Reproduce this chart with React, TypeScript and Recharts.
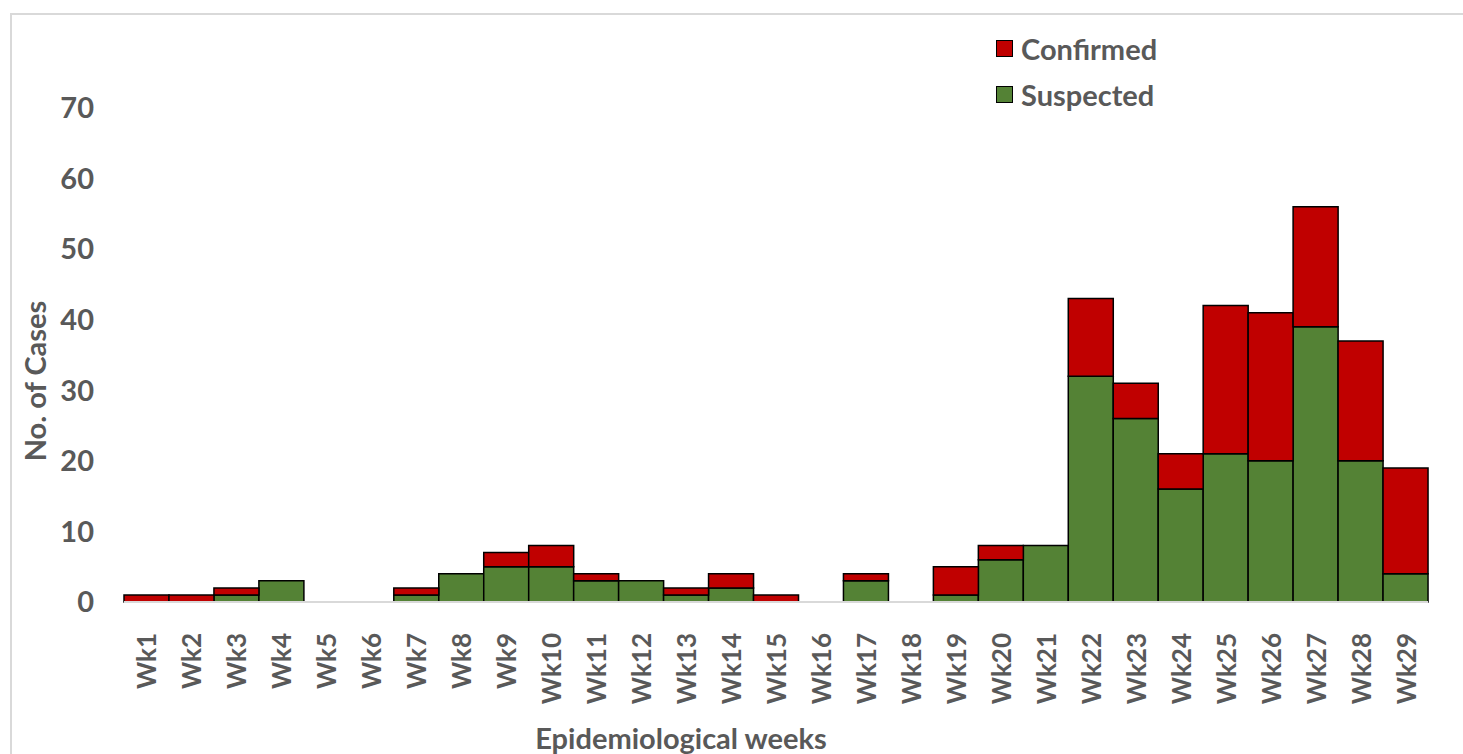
import { BarChart, Bar, XAxis, YAxis, Label } from 'recharts';

const weeks = ['Wk1', 'Wk2', 'Wk3', 'Wk4', 'Wk5', 'Wk6', 'Wk7', 'Wk8', 'Wk9', 'Wk10', 'Wk11', 'Wk12', 'Wk13', 'Wk14', 'Wk15',
    'Wk16', 'Wk17', 'Wk18', 'Wk19', 'Wk20', 'Wk21', 'Wk22', 'Wk23', 'Wk24', 'Wk25', 'Wk26', 'Wk27', 'Wk28', 'Wk29'];
const suspected = [0, 0, 1, 3, 0, 0, 1, 4, 5, 5, 3, 3, 1, 2, 0, 0, 3, 0, 1, 6, 8, 32, 26, 16, 21, 20, 39, 20, 4];
const confirmed = [1, 1, 1, 0, 0, 0, 1, 0, 2, 3, 1, 0, 1, 2, 1, 0, 1, 0, 4, 2, 0, 11, 5, 5, 21, 21, 17, 17, 15];
const yTicks = [0, 10, 20, 30, 40, 50, 60, 70];

const data = weeks.map((w, i) => ({ week: w, suspected: suspected[i], confirmed: confirmed[i] }));

const FONT = 'Lato, "Open Sans", sans-serif';
const GREY = '#595959';
const RED = '#C00000';
const GREEN = '#548235';
const FS = 29;

const WeekTick = (props: any) => {
    const { x, y, payload } = props;
    return (
        <g transform={`translate(${x},${y})`}>
            <text transform="rotate(-90)" x={-23} y={0} textAnchor="end" dominantBaseline="central"
                fill={GREY} fontSize={26} fontWeight="bold" fontFamily={FONT}>
                {payload.value}
            </text>
        </g>
    );
};

// legend drawn as plain html next to the chart
const legendItems = [
    { label: 'Confirmed', color: RED },
    { label: 'Suspected', color: GREEN },
];

const App = () => {
    return (
        <div>
            <div style={{
                position: 'absolute', left: 10, top: 13, width: 1453, height: 741, boxSizing: 'border-box',
                borderLeft: '2px solid #d9d9d9', borderTop: '2px solid #d9d9d9',
            }} />
            <div style={{ position: 'absolute', left: 0, top: 0 }}>
                <BarChart width={1463} height={754} data={data} barCategoryGap={0}
                    margin={{ top: 108, right: 35, left: 0, bottom: 0 }}>
                    <XAxis dataKey="week" height={152} interval={0} tick={<WeekTick />} tickLine={false}
                        axisLine={{ stroke: '#d9d9d9', strokeWidth: 2 }}>
                        <Label content={() => (
                            <text x={681} y={737} textAnchor="middle" dominantBaseline="central" fill={GREY}
                                fontSize={FS} fontWeight="bold" fontFamily={FONT}>Epidemiological weeks</text>
                        )} />
                    </XAxis>
                    <YAxis width={124} domain={[0, 70]} ticks={yTicks} axisLine={false} tickLine={false}
                        tickSize={0} tickMargin={30}
                        tick={{ fill: GREY, fontSize: FS, fontWeight: 'bold', fontFamily: FONT }}>
                        <Label content={() => (
                            <text x={34} y={381} transform="rotate(-90, 34, 381)" textAnchor="middle"
                                dominantBaseline="central" fill={GREY} fontSize={FS} fontWeight="bold"
                                fontFamily={FONT}>No. of Cases</text>
                        )} />
                    </YAxis>
                    <Bar dataKey="suspected" name="Suspected" stackId="a" fill={GREEN} stroke="#000"
                        strokeWidth={1.5} isAnimationActive={false} />
                    <Bar dataKey="confirmed" name="Confirmed" stackId="a" fill={RED} stroke="#000"
                        strokeWidth={1.5} isAnimationActive={false} />
                </BarChart>
            </div>
            <div style={{ position: 'absolute', left: 996, top: 25, fontFamily: FONT }}>
                {legendItems.map((it) => (
                    <div key={it.label} style={{ display: 'flex', alignItems: 'center', height: 46 }}>
                        <span style={{
                            width: 15, height: 15, background: it.color, border: '1.5px solid #000', marginRight: 8,
                        }} />
                        <span style={{ color: GREY, fontSize: FS, fontWeight: 'bold' }}>{it.label}</span>
                    </div>
                ))}
            </div>
        </div>
    );
};

export default App;
